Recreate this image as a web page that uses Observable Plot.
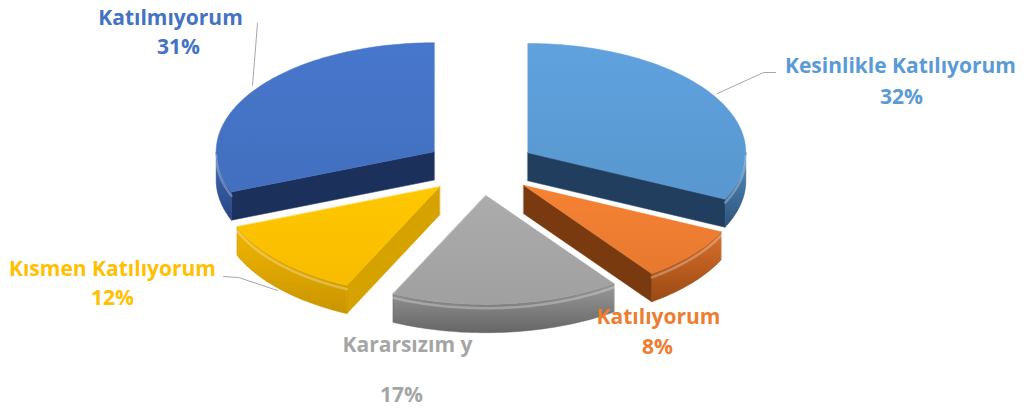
<!DOCTYPE html>
<html>
<head>
<meta charset="utf-8">
<script src="https://cdn.jsdelivr.net/npm/d3@7"></script>
<script src="https://cdn.jsdelivr.net/npm/@observablehq/plot@0.6"></script>
<style>
  html, body { margin: 0; padding: 0; background: #ffffff; }
  #chart svg { display: block; }
</style>
</head>
<body>
<div id="chart"></div>
<script>
// ---- data ----
const categories = ["Kesinlikle Katılıyorum", "Katılıyorum", "Kararsızım", "Kısmen Katılıyorum", "Katılmıyorum"];
const values = [32, 8, 17, 12, 31];
const displayLabels = ["Kesinlikle Katılıyorum", "Katılıyorum", "Kararsızım y", "Kısmen Katılıyorum", "Katılmıyorum"];
const percentLabels = ["32%", "8%", "17%", "12%", "31%"];
const topColors   = ["#5B9BD5", "#ED7D31", "#A5A5A5", "#FFC000", "#4472C4"];
const cutColors   = ["#213E5E", "#7A3A10", "#6E6E6E", "#D6A200", "#1C305C"];
const curveLight  = ["#5590C8", "#D9702A", "#999999", "#F2B600", "#4070C0"];
const curveDark   = ["#2E5478", "#9A4A14", "#666666", "#C99500", "#26437E"];

// ---- layout (pixels) ----
const W = 1026, H = 415;
const cx = 480, cy = 167, sx = 218, sy = 109;   // centre and projected radii
const explode = 0.257;                         // in radius units
const depth = 0.26;                            // side height in y units
const X = px => (px - cx) / sx;
const Y = py => (cy - py) / sy;

// label positions (pixels, centre)
const namePos = [[900, 66], [658, 317], [407, 345], [112, 269], [170, 18]];
const pctPos  = [[901, 97], [657, 347], [401, 395], [112, 298], [178, 47]];
const leaders = [
  [[775, 72], [763, 72], [717, 93]],
  [],
  [],
  [[223, 276], [238, 277], [277, 290]],
  [[257, 23], [252, 85]]
];

// ---- geometry from the data ----
const pie = d3.pie().sort(null).value(d => d)(values);
const slices = pie.map((p, i) => {
  const a0 = p.startAngle, a1 = p.endAngle, mid = (a0 + a1) / 2;
  const ox = explode * Math.sin(mid), oy = explode * Math.cos(mid);
  const P = (t, dz = 0) => ({x: ox + Math.sin(t), y: oy + Math.cos(t) - dz});
  const arc = (t0, t1, dz = 0) => {
    const n = Math.max(2, Math.ceil((t1 - t0) / 0.02));
    return d3.range(n + 1).map(k => P(t0 + (t1 - t0) * k / n, dz));
  };
  const O = (dz = 0) => ({x: ox, y: oy - dz});
  const cuts = [];
  if (Math.cos(a0 - Math.PI / 2) < -1e-6) cuts.push([O(), P(a0), P(a0, depth), O(depth)]);
  if (Math.cos(a1 + Math.PI / 2) < -1e-6) cuts.push([O(), P(a1), P(a1, depth), O(depth)]);
  const c0 = Math.max(a0, Math.PI / 2), c1 = Math.min(a1, 3 * Math.PI / 2);
  const curved = c1 > c0 ? [...arc(c0, c1), ...arc(c0, c1, depth).reverse()] : null;
  const rim = c1 > c0 ? arc(c0, c1, 0.035) : null;
  const top = [O(), ...arc(a0, a1)];
  return {i, cuts, curved, rim, top, oy};
});

const order = slices.slice().sort((a, b) => b.oy - a.oy);
const marks = [];
for (const s of order) {
  for (const poly of s.cuts) {
    marks.push(Plot.line(poly, {x: "x", y: "y", curve: "linear-closed", fill: cutColors[s.i], stroke: cutColors[s.i], strokeWidth: 0.5}));
  }
  if (s.curved) {
    marks.push(Plot.line(s.curved, {x: "x", y: "y", curve: "linear-closed", fill: `url(#curve-${s.i})`, stroke: curveDark[s.i], strokeWidth: 0.5}));
  }
  marks.push(Plot.line(s.top, {x: "x", y: "y", curve: "linear-closed", fill: `url(#top-${s.i})`, stroke: topColors[s.i], strokeWidth: 0.5}));
  if (s.rim) {
    marks.push(Plot.line(s.rim, {x: "x", y: "y", stroke: "#ffffff", strokeOpacity: 0.28, strokeWidth: 2.5}));
  }
}
leaders.forEach(pts => {
  if (pts.length) marks.push(Plot.line(pts.map(([a, b]) => ({x: X(a), y: Y(b)})), {x: "x", y: "y", stroke: "#A6A6A6", strokeWidth: 1}));
});
const labelData = categories.map((c, i) => ({
  name: displayLabels[i], pct: percentLabels[i], color: topColors[i],
  nx: X(namePos[i][0]), ny: Y(namePos[i][1]), px: X(pctPos[i][0]), py: Y(pctPos[i][1])
}));
const font = {fontFamily: "'Open Sans', sans-serif", fontWeight: "bold", fontSize: 21, textAnchor: "middle", lineAnchor: "middle"};
marks.push(Plot.text(labelData, {x: "nx", y: "ny", text: "name", fill: d => d.color, ...font}));
marks.push(Plot.text(labelData, {x: "px", y: "py", text: "pct", fill: d => d.color, ...font}));

const chart = Plot.plot({
  width: W, height: H, margin: 0,
  x: {domain: [X(0), X(W)], axis: null},
  y: {domain: [Y(H), Y(0)], axis: null},
  color: {type: "identity"},
  style: {background: "#ffffff"},
  marks
});

// gradients
const defs = d3.create("svg:defs");
topColors.forEach((c, i) => {
  const g = defs.append("linearGradient").attr("id", `top-${i}`).attr("x1", 0).attr("y1", 0).attr("x2", 0).attr("y2", 1);
  g.append("stop").attr("offset", 0).attr("stop-color", d3.color(c).brighter(0.12).formatHex());
  g.append("stop").attr("offset", 1).attr("stop-color", d3.color(c).darker(0.08).formatHex());
  const h = defs.append("linearGradient").attr("id", `curve-${i}`).attr("x1", 0).attr("y1", 0).attr("x2", 0).attr("y2", 1);
  h.append("stop").attr("offset", 0).attr("stop-color", curveLight[i]);
  h.append("stop").attr("offset", 1).attr("stop-color", curveDark[i]);
});
chart.insertBefore(defs.node(), chart.firstChild);
document.getElementById("chart").appendChild(chart);
</script>
</body>
</html>
